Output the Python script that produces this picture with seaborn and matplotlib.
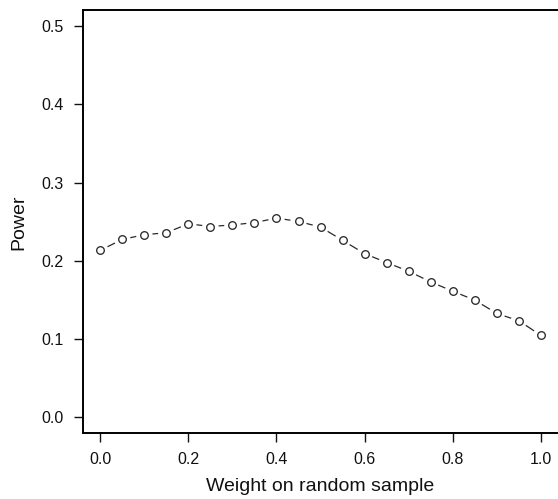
import matplotlib
matplotlib.use("Agg")
import matplotlib.pyplot as plt
import seaborn as sns
import pandas as pd

# Power of the test as a function of the weight placed on the random sample
weights = [0.00, 0.05, 0.10, 0.15, 0.20, 0.25, 0.30, 0.35, 0.40, 0.45, 0.50,
           0.55, 0.60, 0.65, 0.70, 0.75, 0.80, 0.85, 0.90, 0.95, 1.00]
power = [0.2135, 0.2275, 0.2335, 0.2360, 0.2475, 0.2440, 0.2460, 0.2490, 0.2547, 0.2505, 0.2432,
         0.2263, 0.2093, 0.1979, 0.1868, 0.1732, 0.1613, 0.1499, 0.1329, 0.1235, 0.1049]

x_ticks = [0.0, 0.2, 0.4, 0.6, 0.8, 1.0]
y_ticks = [0.0, 0.1, 0.2, 0.3, 0.4, 0.5]

df = pd.DataFrame({"weight": weights, "power": power})

sns.set_style("ticks")
plt.rcParams["font.family"] = ["Liberation Sans", "DejaVu Sans"]

fig = plt.figure(figsize=(5.58, 4.99), dpi=100)
ax = fig.add_axes([0.148, 0.132, 0.853, 0.847])

# connecting line, broken around each point
sns.lineplot(data=df, x="weight", y="power", ax=ax, color="#2a2a2a",
             linewidth=0.9, zorder=1)
sns.scatterplot(data=df, x="weight", y="power", ax=ax, s=140, color="white",
                edgecolor="none", linewidth=0, zorder=2)
# open circles
sns.scatterplot(data=df, x="weight", y="power", ax=ax, s=30, facecolor="white",
                edgecolor="#2a2a2a", linewidth=0.95, marker="o", zorder=3)

ax.set_xlim(-0.04, 1.04)
ax.set_ylim(-0.02, 0.52)
ax.set_xticks(x_ticks)
ax.set_yticks(y_ticks)
ax.set_xticklabels([f"{v:.1f}" for v in x_ticks])
ax.set_yticklabels([f"{v:.1f}" for v in y_ticks])

ax.tick_params(axis="both", direction="out", length=6.5, width=1.0,
               pad=7, labelsize=11.5, colors="#111111")
for side in ["left", "right", "top", "bottom"]:
    ax.spines[side].set_visible(True)
    ax.spines[side].set_linewidth(1.4)
    ax.spines[side].set_color("#000000")

ax.set_xlabel("Weight on random sample", fontsize=14, labelpad=8, color="#111111")
ax.set_ylabel("Power", fontsize=14, labelpad=10, color="#111111")

fig.savefig("out.png", dpi=100)
